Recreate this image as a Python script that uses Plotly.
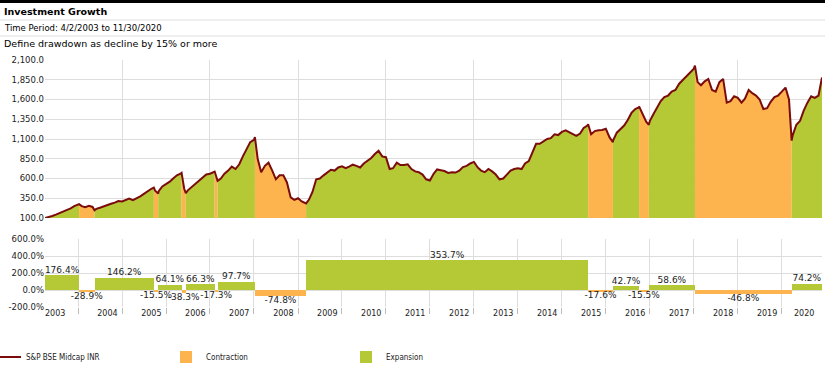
import pandas as pd
import plotly.graph_objects as go

# ---------------- data ----------------
start_date = "2003-04-02"
end_date = "2020-11-30"

# month-start index values (May 2003 .. Nov 2020)
monthly_values = [
    110, 125, 142, 160, 180, 200, 222, 250,                                  # 2003 May-Dec
    270, 250, 238, 255, 240, 215, 230, 250, 265, 280, 295, 315,              # 2004
    310, 325, 345, 325, 345, 375, 405, 440, 470, 450, 440, 500,              # 2005
    530, 560, 600, 640, 660, 470, 450, 490, 540, 580, 620, 650,              # 2006
    660, 680, 590, 600, 660, 700, 750, 720, 780, 880, 980, 1060,             # 2007
    1090, 850, 680, 760, 800, 700, 590, 640, 640, 550, 360, 330,             # 2008
    350, 310, 295, 330, 430, 590, 600, 640, 670, 710, 700, 740,              # 2009
    755, 730, 750, 775, 760, 740, 790, 820, 860, 910, 950, 880,              # 2010
    870, 720, 730, 800, 770, 770, 780, 720, 690, 680, 650, 590,              # 2011
    575, 660, 715, 705, 695, 670, 680, 675, 700, 745, 760, 790,              # 2012
    810, 740, 700, 680, 720, 690, 650, 590, 600, 650, 700, 720,              # 2013
    730, 720, 790, 820, 930, 1040, 1040, 1070, 1100, 1110, 1160, 1150,       # 2014
    1190, 1210, 1190, 1170, 1140, 1170, 1240, 1270, 1160, 1200, 1210, 1215,  # 2015
    1230, 1120, 1080, 1180, 1220, 1270, 1340, 1430, 1480, 1500, 1420, 1320,  # 2016
    1330, 1420, 1500, 1580, 1630, 1650, 1700, 1720, 1800, 1850, 1900, 1950,  # 2017
    1990, 1820, 1780, 1830, 1860, 1720, 1700, 1820, 1860, 1560, 1580, 1640,  # 2018
    1620, 1560, 1610, 1720, 1680, 1650, 1600, 1480, 1490, 1570, 1630, 1650,  # 2019
    1700, 1750, 1600, 1150, 1280, 1330, 1460, 1560, 1640, 1620, 1650,        # 2020 Jan-Nov
]

# drawdown / recovery periods (start dates), type and return
period_starts = ["2003-04-02", "2004-01-10", "2004-05-17", "2005-09-22", "2005-10-28",
                 "2006-05-10", "2006-06-14", "2007-02-09", "2007-03-05", "2008-01-09",
                 "2009-03-09", "2015-08-07", "2016-02-29", "2016-10-03", "2016-12-23",
                 "2018-01-10", "2020-03-23"]
period_types = ["Expansion", "Contraction"] * 8 + ["Expansion"]
period_returns = [176.4, -28.9, 146.2, -15.5, 64.1, -38.3, 66.3, -17.3, 97.7, -74.8,
                  353.7, -17.6, 42.7, -15.5, 58.6, -46.8, 74.2]
# index value at each period start (turning points), and the final value
turn_values = [100, 276, 197, 484, 409, 671, 414, 688, 569, 1125, 284, 1287, 1060,
               1513, 1279, 2028, 1079]
end_value = 1879

year_labels = [str(y) for y in range(2003, 2021)]
growth_ticks = list(range(100, 2101, 250))
return_ticks = [-200, 0, 200, 400, 600]

# ---------------- build series ----------------
monthly_dates = pd.date_range("2003-05-01", "2020-11-01", freq="MS")
s = pd.concat([
    pd.Series(monthly_values, index=monthly_dates),
    pd.Series(turn_values, index=pd.to_datetime(period_starts)),
    pd.Series([end_value], index=[pd.Timestamp(end_date)]),
]).sort_index()

starts = pd.to_datetime(period_starts)
ends = list(starts[1:]) + [pd.Timestamp(end_date)]

COL = {"Contraction": "#FDB44E", "Expansion": "#B5C835"}
LINE = "#7B0C0C"
FONT = "DejaVu Sans, Verdana, sans-serif"
NARROW = "DejaVu Sans Condensed, Liberation Sans Narrow, DejaVu Sans, sans-serif"

fig = go.Figure()

# coloured area fills for each period
for st, en, tp in zip(starts, ends, period_types):
    seg = s[(s.index >= st) & (s.index <= en)]
    fig.add_trace(go.Scatter(x=seg.index, y=seg.values, fill="tozeroy", mode="lines",
                             line=dict(width=0), fillcolor=COL[tp], showlegend=False,
                             hoverinfo="skip", xaxis="x", yaxis="y"))

fig.add_trace(go.Scatter(x=s.index, y=s.values, mode="lines", name="S&P BSE Midcap INR",
                         line=dict(color=LINE, width=2), legendrank=1,
                         xaxis="x", yaxis="y"))

# bars of period returns
mids = [st + (en - st) / 2 for st, en in zip(starts, ends)]
widths = [(en - st).total_seconds() * 1000 for st, en in zip(starts, ends)]
for tp, rank in (("Contraction", 2), ("Expansion", 3)):
    idx = [i for i, t in enumerate(period_types) if t == tp]
    fig.add_trace(go.Bar(x=[mids[i] for i in idx], y=[period_returns[i] for i in idx],
                         width=[widths[i] for i in idx], base=0, name=tp,
                         marker=dict(color=COL[tp], line=dict(width=0)),
                         legendrank=rank, xaxis="x2", yaxis="y2"))

pos_i = [i for i, r in enumerate(period_returns) if r >= 0]
neg_i = [i for i, r in enumerate(period_returns) if r < 0]
for ids, tpos in ((pos_i, "top center"), (neg_i, "bottom center")):
    fig.add_trace(go.Scatter(x=[mids[i] for i in ids], y=[period_returns[i] for i in ids],
                             mode="text", text=[f"{period_returns[i]:.1f}%" for i in ids],
                             textposition=tpos, textfont=dict(size=9, color="#222", family=FONT),
                             showlegend=False, hoverinfo="skip", cliponaxis=False,
                             xaxis="x2", yaxis="y2"))

# ---------------- layout ----------------
L, R, T, B = 45, 3, 60, 64
W, H = 825, 371
pw, ph = W - L - R, H - T - B
def px(x):
    return (x - L) / pw
def py(y):
    return (H - B - y) / ph

label_pos = ([pd.Timestamp("2003-06-25")] +
             [pd.Timestamp(f"{y}-09-01") for y in range(2004, 2020)] +
             [pd.Timestamp("2020-07-05")])

GRID = "#DDDDDD"
xr = [start_date, end_date]
fig.update_layout(
    width=W, height=H, margin=dict(l=L, r=R, t=T, b=B, autoexpand=False),
    plot_bgcolor="white", paper_bgcolor="white",
    font=dict(family=FONT, size=8.5, color="#222"),
    barmode="overlay", bargap=0,
    xaxis=dict(domain=[0, 1], range=xr, type="date", showticklabels=False, showgrid=False,
               ticks="", anchor="y", automargin=False,
               minor=dict(dtick="M12", tick0="2004-01-01", showgrid=True, gridcolor=GRID,
                          gridwidth=1, ticks="")),
    yaxis=dict(domain=[py(218), 1], range=[100, 2100], tickvals=growth_ticks,
               ticktext=[f"{v:,.1f}" for v in growth_ticks], showgrid=True, gridcolor=GRID,
               zeroline=False, ticks="", anchor="x", automargin=False),
    xaxis2=dict(domain=[0, 1], range=xr, type="date", anchor="y2", automargin=False,
                tickvals=label_pos, ticktext=year_labels, ticks="", showgrid=False,
                showline=False, tickfont=dict(size=8),
                minor=dict(dtick="M12", tick0="2004-01-01", showgrid=True, gridcolor=GRID,
                           gridwidth=1, ticks="outside", ticklen=6, tickcolor="#BBBBBB")),
    yaxis2=dict(domain=[0, py(239)], range=[-200, 600], tickvals=return_ticks,
                ticktext=[f"{v:.1f}%" for v in return_ticks], showgrid=True, gridcolor=GRID,
                zeroline=False, ticks="", anchor="x2", automargin=False),
    legend=dict(orientation="h", x=px(-14), xanchor="left", y=py(357), yanchor="middle",
                entrywidth=135, entrywidthmode="pixels", font=dict(size=8, family=NARROW),
                itemwidth=30, tracegroupgap=0, bgcolor="rgba(0,0,0,0)"),
    showlegend=True,
)

# header
shapes = [
    dict(type="rect", xref="paper", yref="paper", x0=px(0), x1=px(W), y0=py(0), y1=py(3),
         fillcolor="black", line=dict(width=0)),
    dict(type="line", xref="paper", yref="paper", x0=px(0), x1=px(W), y0=py(20), y1=py(20),
         line=dict(color="#DDDDDD", width=1)),
    dict(type="line", xref="paper", yref="paper", x0=px(0), x1=px(W), y0=py(36), y1=py(36),
         line=dict(color="#DDDDDD", width=1)),
]
fig.update_layout(shapes=shapes)
anns = [
    ("<b>Investment Growth</b>", 11.5, 9.5),
    ("Time Period: 4/2/2003 to 11/30/2020", 28, 8.5),
    ("Define drawdown as decline by 15% or more", 43.5, 9.5),
]
for txt, yy, sz in anns:
    fig.add_annotation(text=txt, xref="paper", yref="paper", x=px(2), y=py(yy),
                       xanchor="left", yanchor="middle", showarrow=False,
                       font=dict(size=sz, color="black", family=FONT))

fig.write_html("out.html", config={"displayModeBar": False},
               post_script="document.body.style.margin='0';document.body.style.overflow='hidden';")
